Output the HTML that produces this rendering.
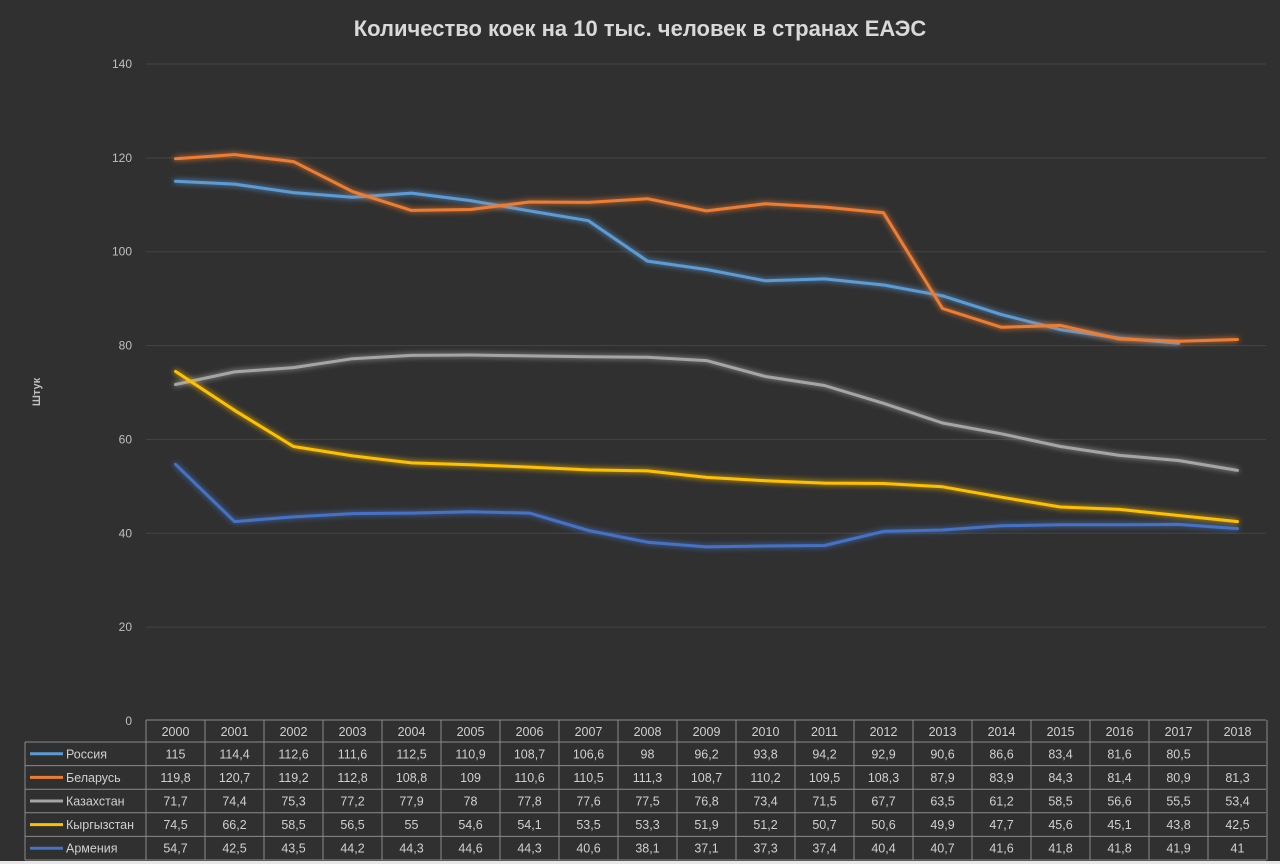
<!DOCTYPE html>
<html><head><meta charset="utf-8"><style>
body{margin:0;background:#fff;}
#wrap{width:1280px;height:864px;background:#303030;position:relative;overflow:hidden;font-family:"Liberation Sans","DejaVu Sans",sans-serif;}
svg text{font-family:"Liberation Sans","DejaVu Sans",sans-serif;}
</style></head><body>
<div id="wrap">
<svg id="chart" width="1280" height="864"></svg>
</div>
<script>
const years=["2000","2001","2002","2003","2004","2005","2006","2007","2008","2009","2010","2011","2012","2013","2014","2015","2016","2017","2018"];
const russia=[115,114.4,112.6,111.6,112.5,110.9,108.7,106.6,98,96.2,93.8,94.2,92.9,90.6,86.6,83.4,81.6,80.5,null];
const belarus=[119.8,120.7,119.2,112.8,108.8,109,110.6,110.5,111.3,108.7,110.2,109.5,108.3,87.9,83.9,84.3,81.4,80.9,81.3];
const kazakhstan=[71.7,74.4,75.3,77.2,77.9,78,77.8,77.6,77.5,76.8,73.4,71.5,67.7,63.5,61.2,58.5,56.6,55.5,53.4];
const kyrgyzstan=[74.5,66.2,58.5,56.5,55,54.6,54.1,53.5,53.3,51.9,51.2,50.7,50.6,49.9,47.7,45.6,45.1,43.8,42.5];
const armenia=[54.7,42.5,43.5,44.2,44.3,44.6,44.3,40.6,38.1,37.1,37.3,37.4,40.4,40.7,41.6,41.8,41.8,41.9,41];
const yTicks=[0,20,40,60,80,100,120,140];
const seriesNames=["Россия","Беларусь","Казахстан","Кыргызстан","Армения"];
const seriesData=[russia,belarus,kazakhstan,kyrgyzstan,armenia];
const colors=["#5b9bd5","#ed7d31","#a5a5a5","#ffc000","#4472c4"];

const NS="http://www.w3.org/2000/svg";
const svg=document.getElementById('chart');
const x0=146,colW=59,yTop=64,yBot=721,yMax=140;
const xc=i=>x0+colW*i+colW/2;
const y=v=>yBot-(v/yMax)*(yBot-yTop);
function mk(tag,attrs,parent){const e=document.createElementNS(NS,tag);for(const k in attrs)e.setAttribute(k,attrs[k]);(parent||svg).appendChild(e);return e;}

const defs=mk('defs',{});
defs.innerHTML='<filter id="glow" x="-5%" y="-20%" width="110%" height="140%"><feGaussianBlur stdDeviation="3" result="b"/><feMerge><feMergeNode in="b"/><feMergeNode in="SourceGraphic"/></feMerge></filter>';

const title=mk('text',{x:640,y:36,'text-anchor':'middle','font-size':22,'font-weight':'bold',fill:'#d9d9d9'});
title.textContent='Количество коек на 10 тыс. человек в странах ЕАЭС';



const yt=mk('text',{x:40,y:392,'text-anchor':'middle','font-size':11,'font-weight':'bold',fill:'#bfbfbf',transform:'rotate(-90 40 392)'});
yt.textContent='Штук';



yTicks.forEach(t=>{
  if(t>0){const g=mk('line',{x1:x0,x2:1266,y1:y(t),y2:y(t),stroke:'#444','stroke-width':1});
  
  }
  const l=mk('text',{x:132,y:y(t)+4,'text-anchor':'end','font-size':12,fill:'#bfbfbf'});
  l.textContent=t;
  
  
});

seriesData.forEach((d,si)=>{
  let pts=[];d.forEach((v,i)=>{if(v!==null)pts.push(xc(i).toFixed(1)+','+y(v).toFixed(1));});
  const p=mk('polyline',{points:pts.join(' '),fill:'none',stroke:colors[si],'stroke-width':3,'stroke-linejoin':'round','stroke-linecap':'round',filter:'url(#glow)'});
  
  
});

// data table
const tTop=720,hdrH=22,rowH=23.6,legL=25;
const bc='#8a8a8a';
mk('line',{x1:x0,x2:1266,y1:tTop,y2:tTop,stroke:bc});
mk('line',{x1:legL,x2:1266,y1:tTop+hdrH,y2:tTop+hdrH,stroke:bc});
for(let r=1;r<=5;r++)mk('line',{x1:legL,x2:1266,y1:tTop+hdrH+rowH*r,y2:tTop+hdrH+rowH*r,stroke:bc});
mk('line',{x1:legL,x2:legL,y1:tTop+hdrH,y2:tTop+hdrH+rowH*5,stroke:bc});
for(let i=0;i<=years.length;i++)mk('line',{x1:x0+colW*i,x2:x0+colW*i,y1:tTop,y2:tTop+hdrH+rowH*5,stroke:bc});
years.forEach((yr,i)=>{
  const t=mk('text',{x:xc(i),y:tTop+16,'text-anchor':'middle','font-size':12.5,fill:'#d0d0d0'});
  t.textContent=yr;
  
  
});
seriesData.forEach((d,si)=>{
  const cy=tTop+hdrH+rowH*si+rowH/2+4.5;
  const sw=mk('line',{x1:30,x2:63,y1:cy-4.5,y2:cy-4.5,stroke:colors[si],'stroke-width':3});
  
  
  const n=mk('text',{x:66,y:cy,'font-size':12.5,fill:'#d0d0d0'});
  n.textContent=seriesNames[si];
  
  
  d.forEach((v,i)=>{
    if(v===null)return;
    const c=mk('text',{x:xc(i),y:cy,'text-anchor':'middle','font-size':12.5,fill:'#d0d0d0'});
    c.textContent=String(v).replace('.',',');
    
    
  });
});
mk('rect',{x:0,y:861,width:1280,height:3,fill:'#e8e8e8'});
</script>
</body></html>
